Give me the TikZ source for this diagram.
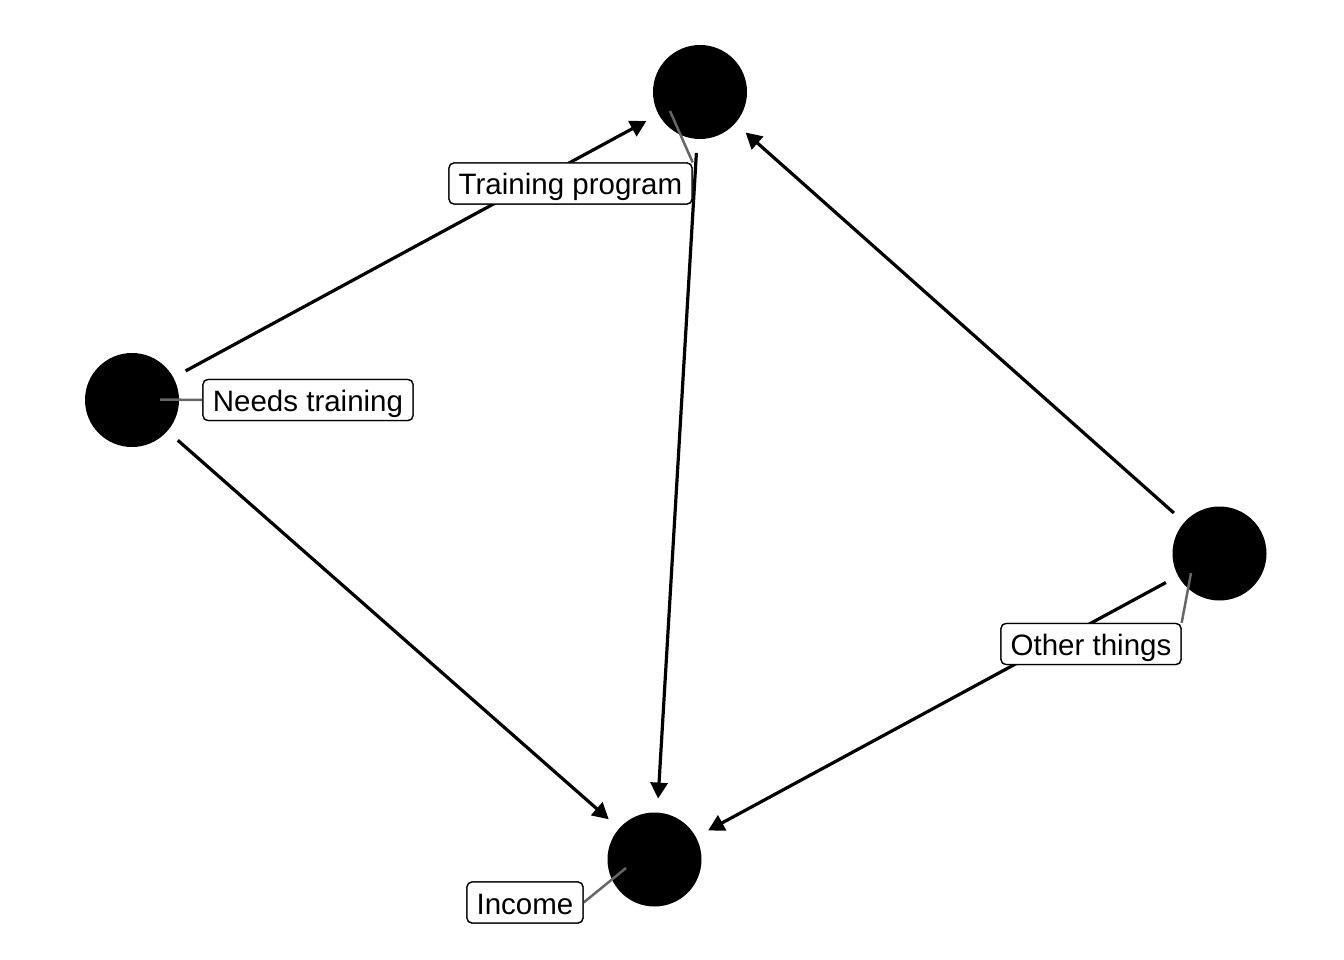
\documentclass[tikz,border=0pt]{standalone}
\usepackage{fontspec}
\setmainfont{Liberation Sans}
\usetikzlibrary{arrows.meta}
\begin{document}
\begin{tikzpicture}[x=1pt,y=-1pt,
  dagnode/.style={circle,fill=black,minimum size=94pt,inner sep=0pt,outer sep=14pt},
  edge/.style={line width=3.2pt,-{Triangle[length=16pt,width=17pt]}},
  lbl/.style={draw=black,line width=1.3pt,fill=white,rounded corners=5pt,
    font=\fontsize{29.5}{34}\selectfont,inner xsep=0pt,inner ysep=0pt,
    minimum height=41pt,text height=28pt,text depth=5pt,align=center},
  leader/.style={draw=black!60,line width=2.5pt}]
\useasboundingbox (0,0) rectangle (1344,960);
% nodes
\node[dagnode] (train) at (700,92) {};
\node[dagnode] (need) at (132,400) {};
\node[dagnode] (other) at (1219.5,553.5) {};
\node[dagnode] (inc) at (654.5,859.5) {};
% edges
\draw[edge] (need) -- (train);
\draw[edge] (need) -- (inc);
\draw[edge] (train) -- (inc);
\draw[edge] (other) -- (train);
\draw[edge] (other) -- (inc);
% label positions
\coordinate (tpin) at (670,111);
\coordinate (npin) at (160,399.5);
\coordinate (opin) at (1191,573);
\coordinate (ipin) at (626,868);
\path (570.5,183.5) node[lbl,minimum width=243pt] (tlab) {};
\path (308,400) node[lbl,minimum width=210pt] (nlab) {};
\path (1091,644) node[lbl,minimum width=180pt] (olab) {};
\path (525,902.5) node[lbl,minimum width=116pt] (ilab) {};
% leaders
\draw[leader] (tpin) -- (tlab.north east);
\draw[leader] (npin) -- (nlab.west);
\draw[leader] (opin) -- (olab.north east);
\draw[leader] (ipin) -- (ilab.east);
% label boxes on top
\node[lbl,minimum width=243pt] (tlabf) at (tlab) {Training program};
\node[lbl,minimum width=210pt] (nlabf) at (nlab) {Needs training};
\node[lbl,minimum width=180pt] (olabf) at (olab) {Other things};
\node[lbl,minimum width=116pt] (ilabf) at (ilab) {Income};
\end{tikzpicture}
\end{document}
